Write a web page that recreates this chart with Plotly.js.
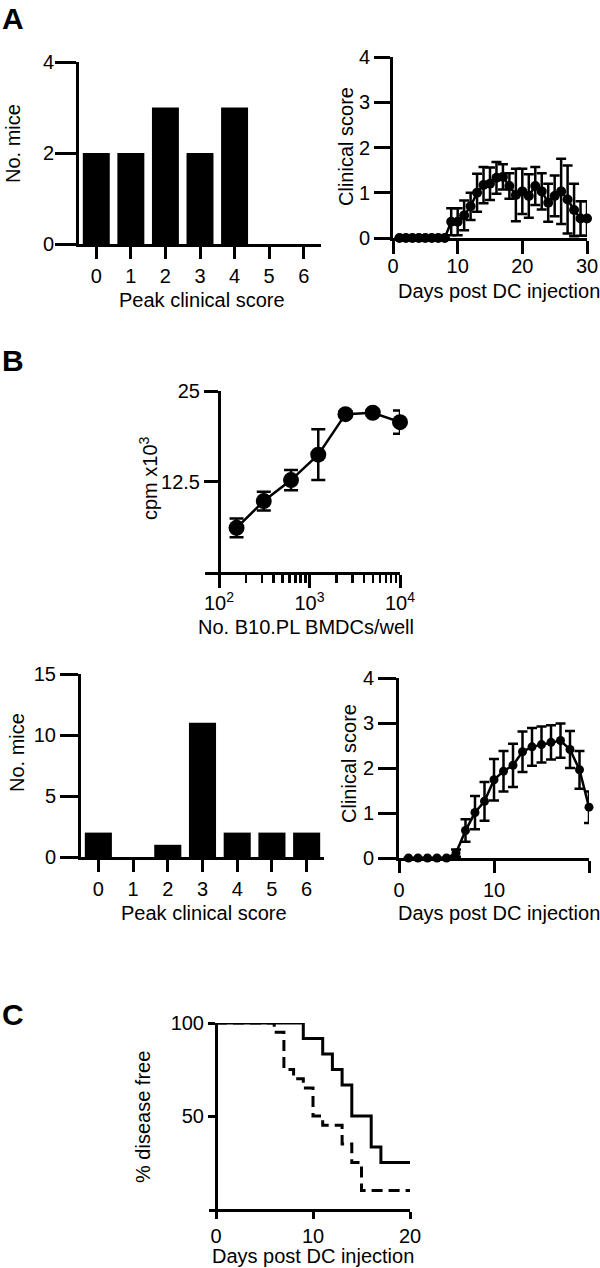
<!DOCTYPE html>
<html>
<head>
<meta charset="utf-8">
<script src="https://cdn.plot.ly/plotly-3.0.1.min.js"></script>
<style>html,body{margin:0;padding:0;background:#fff;}#chart{width:600px;height:1268px;}</style>
</head>
<body>
<div id="chart"></div>
<script>
// ---------- data ----------
// Panel A (left): peak clinical score distribution
const scoreCats = [0, 1, 2, 3, 4, 5, 6];
const miceA = [2, 2, 3, 2, 3, 0, 0];
// Panel A (right): clinical score time course
const daysA = [1,2,3,4,5,6,7,8,9,10,11,12,13,14,15,16,17,18,19,20,21,22,23,24,25,26,27,28,29,30];
const scoreA = [0,0,0,0,0,0,0,0,0.36,0.36,0.5,0.7,1.0,1.17,1.2,1.33,1.35,1.15,0.95,1.03,0.93,1.15,1.03,0.78,0.93,1.03,0.85,0.62,0.43,0.43];
const semA = [0,0,0,0,0,0,0,0,0.3,0.3,0.33,0.3,0.42,0.4,0.36,0.35,0.28,0.28,0.58,0.5,0.48,0.42,0.4,0.42,0.45,0.72,0.75,0.58,0.38,0.38];
// Panel B (top): proliferation vs number of BMDCs
const cellsB = [156.25, 312.5, 625, 1250, 2500, 5000, 10000];
const cpmB = [6.1, 9.8, 12.7, 16.2, 21.8, 22.0, 20.7];
const cpmErrB = [1.3, 1.3, 1.4, 3.5, 0.4, 0.4, 1.6];
// Panel B (bottom left): peak clinical score distribution
const miceB = [2, 0, 1, 11, 2, 2, 2];
// Panel B (bottom right): clinical score time course
const daysB = [1,2,3,4,5,6,7,8,9,10,11,12,13,14,15,16,17,18,19,20];
const scoreB = [0,0,0,0,0,0.11,0.61,1.01,1.26,1.74,1.93,2.06,2.36,2.47,2.52,2.57,2.61,2.41,1.96,1.13];
const semB = [0,0,0,0,0,0.08,0.25,0.37,0.43,0.46,0.45,0.48,0.45,0.42,0.4,0.38,0.38,0.41,0.42,0.35];
// Panel C: % disease free (Kaplan-Meier steps)
const solidDays = [0, 9, 11, 12, 13, 14, 16, 17, 20];
const solidPct = [100, 91.7, 83.3, 75, 66.7, 50, 33.3, 25, 25];
const dashDays = [0, 6, 7, 8, 9, 10, 11, 13, 14, 15, 20];
const dashPct = [100, 95, 75, 70, 65, 50, 45, 35, 25, 10, 10];

// tick labels
const logTickVals = [100, 1000, 10000];
const logTickText = ['10<sup>2</sup>', '10<sup>3</sup>', '10<sup>4</sup>'];
const logMinor = [200,300,400,500,600,700,800,900,2000,3000,4000,5000,6000,7000,8000,9000];
const cpmTicks = [12.5, 25];
const pctTicks = [50, 100];

// ---------- helpers ----------
const W = 600, H = 1268;
const fx = p => p / W;
const fy = p => 1 - p / H;
const FONT = 'Liberation Sans, Arial, Helvetica, sans-serif';

function ax(opts) {
  return Object.assign({
    showline: true, linewidth: 3, linecolor: '#000',
    ticks: 'outside', tickwidth: 3, tickcolor: '#000',
    showgrid: false, zeroline: false, fixedrange: true,
    tickfont: {size: 20, family: FONT, color: '#000'}
  }, opts);
}

const traces = [
  {type: 'bar', x: scoreCats, y: miceA, xaxis: 'x', yaxis: 'y', width: 0.78,
   marker: {color: '#000', line: {width: 0}}},
  {type: 'scatter', mode: 'lines+markers', x: daysA, y: scoreA, xaxis: 'x2', yaxis: 'y2',
   cliponaxis: false, line: {color: '#000', width: 2.5}, marker: {color: '#000', size: 10},
   error_y: {type: 'data', array: semA, color: '#000', thickness: 2.5, width: 5}},
  {type: 'scatter', mode: 'lines+markers', x: cellsB, y: cpmB, xaxis: 'x3', yaxis: 'y3',
   cliponaxis: false, line: {color: '#000', width: 2.5}, marker: {color: '#000', size: 16},
   error_y: {type: 'data', array: cpmErrB, color: '#000', thickness: 2.5, width: 7}},
  {type: 'bar', x: scoreCats, y: miceB, xaxis: 'x4', yaxis: 'y4', width: 0.78,
   marker: {color: '#000', line: {width: 0}}},
  {type: 'scatter', mode: 'lines+markers', x: daysB, y: scoreB, xaxis: 'x5', yaxis: 'y5',
   cliponaxis: false, line: {color: '#000', width: 2.5}, marker: {color: '#000', size: 9},
   error_y: {type: 'data', array: semB, color: '#000', thickness: 2.5, width: 5}},
  {type: 'scatter', mode: 'lines', x: solidDays, y: solidPct, xaxis: 'x6', yaxis: 'y6',
   cliponaxis: false, line: {color: '#000', width: 3, shape: 'hv'}},
  {type: 'scatter', mode: 'lines', x: dashDays, y: dashPct, xaxis: 'x6', yaxis: 'y6',
   cliponaxis: false, line: {color: '#000', width: 3, shape: 'hv', dash: '11px,6px'}}
];

function ann(text, px, py, opts) {
  return Object.assign({text: text, x: fx(px), y: fy(py), xref: 'paper', yref: 'paper',
    xanchor: 'center', yanchor: 'middle', showarrow: false,
    font: {size: 20, family: FONT, color: '#000'}}, opts || {});
}

// panel B-top: x axis line extends 14 px left of the y axis (at 219 px), 90.5 px per decade
const logLeft = 2 - 14 / 90.5;
// panel C: x axis line extends 7 px left of the y axis (at 216 px), 9.7 px per day
const dayLeft = -7 / 9.7;

const layout = {
  width: W, height: H,
  margin: {l: 0, r: 0, t: 0, b: 0},
  paper_bgcolor: '#fff', plot_bgcolor: 'rgba(0,0,0,0)',
  showlegend: false,
  font: {family: FONT, size: 20, color: '#000'},
  // A left
  xaxis: ax({domain: [fx(79), fx(321)], anchor: 'y', range: [-0.5, 6.5], tickvals: scoreCats, ticklen: 12}),
  yaxis: ax({domain: [fy(244), fy(62)], anchor: 'x', range: [0, 4], tickvals: [0, 2, 4], ticklen: 21, ticklabelstandoff: -3}),
  // A right
  xaxis2: ax({domain: [fx(393), fx(587)], anchor: 'y2', range: [0, 30], tickvals: [0, 10, 20, 30], ticklen: 13, ticklabelstandoff: -5}),
  yaxis2: ax({domain: [fy(238), fy(57)], anchor: 'x2', range: [0, 4], tickvals: [0, 1, 2, 3, 4], ticklen: 16}),
  // B top (log)
  xaxis3: ax({domain: [fx(205), fx(400)], anchor: 'y3', type: 'log', range: [logLeft, 4],
    tickmode: 'array', tickvals: logTickVals, ticktext: logTickText, ticklen: 13, ticklabelstandoff: -2,
    minor: {tickmode: 'array', tickvals: logMinor, ticks: 'outside', ticklen: 8, tickwidth: 2.5, tickcolor: '#000', showgrid: false}}),
  yaxis3: ax({domain: [fy(572), fy(391)], anchor: 'free', position: fx(219), range: [0, 25], tickvals: cpmTicks, ticklen: 14}),
  // B bottom left
  xaxis4: ax({domain: [fx(81), fx(324)], anchor: 'y4', range: [-0.5, 6.5], tickvals: scoreCats, ticklen: 12}),
  yaxis4: ax({domain: [fy(857), fy(674)], anchor: 'x4', range: [0, 15], tickvals: [0, 5, 10, 15], ticklen: 18}),
  // B bottom right
  xaxis5: ax({domain: [fx(399), fx(589)], anchor: 'y5', range: [0, 20], tickvals: [0, 10, 20], ticklen: 12}),
  yaxis5: ax({domain: [fy(858), fy(678)], anchor: 'x5', range: [0, 4], tickvals: [0, 1, 2, 3, 4], ticklen: 18}),
  // C
  xaxis6: ax({domain: [fx(209), fx(410)], anchor: 'y6', range: [dayLeft, 20], tickvals: [0, 10, 20], ticklen: 7}),
  yaxis6: ax({domain: [fy(1209), fy(1023)], anchor: 'free', position: fx(216), range: [0, 100], tickvals: pctTicks, ticklen: 7}),
  annotations: [
    ann('<b>A</b>', 13, 18, {font: {size: 30, family: FONT, color: '#000'}}),
    ann('<b>B</b>', 13, 360, {font: {size: 30, family: FONT, color: '#000'}}),
    ann('<b>C</b>', 13, 1014, {font: {size: 30, family: FONT, color: '#000'}}),
    ann('No. mice', 13, 144, {textangle: -90}),
    ann('Peak clinical score', 202, 300),
    ann('Clinical score', 346, 147, {textangle: -90}),
    ann('Days post DC injection', 499, 291),
    ann('cpm x10<sup>3</sup>', 148, 478, {textangle: -90}),
    ann('No. B10.PL BMDCs/well', 306, 627),
    ann('No. mice', 17, 753, {textangle: -90}),
    ann('Peak clinical score', 204, 913),
    ann('Clinical score', 349, 764, {textangle: -90}),
    ann('Days post DC injection', 499, 913),
    ann('% disease free', 143, 1117, {textangle: -90}),
    ann('Days post DC injection', 313, 1256)
  ]
};

Plotly.newPlot('chart', traces, layout, {staticPlot: true, displayModeBar: false});
</script>
</body>
</html>
